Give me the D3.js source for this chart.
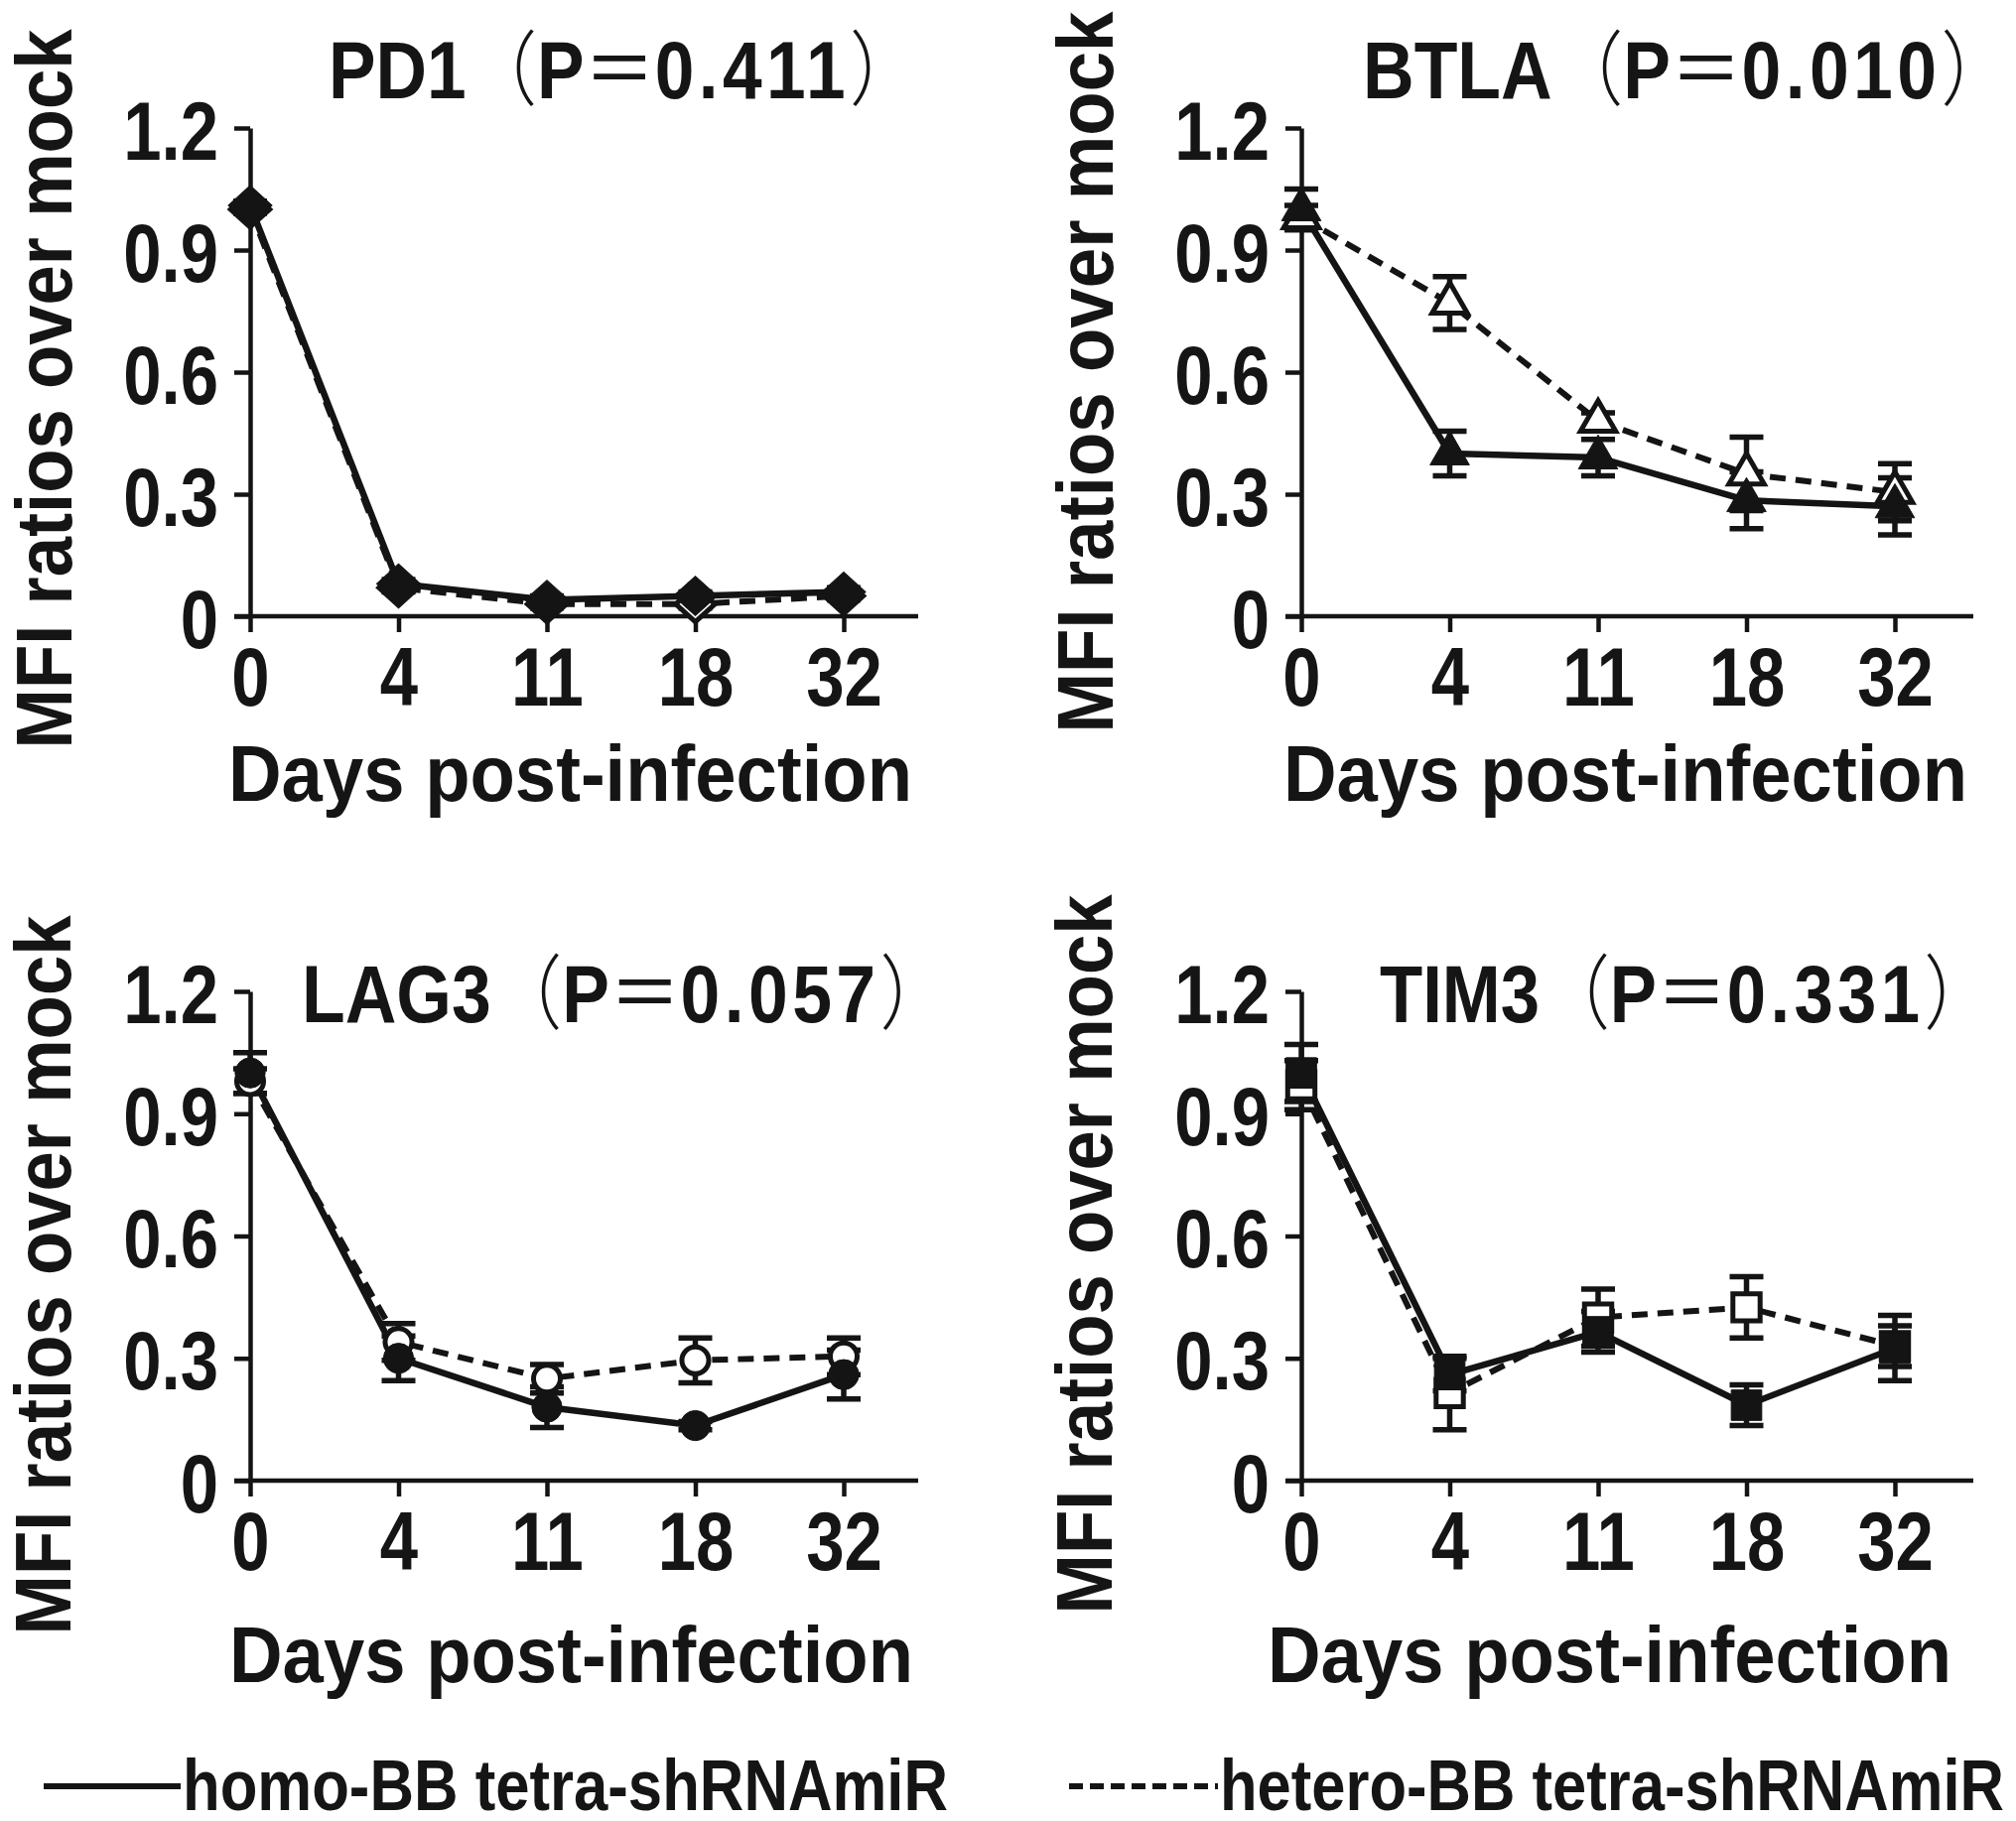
<!DOCTYPE html>
<html>
<head>
<meta charset="utf-8">
<script src="https://cdn.jsdelivr.net/npm/d3@7.9.0/dist/d3.min.js"></script>
<style>
  html, body { margin: 0; padding: 0; background: #fff; }
  svg { display: block; }
  text {
    font-family: 'Liberation Sans Narrow', 'Arial Narrow', 'Liberation Sans', Arial, sans-serif;
    font-weight: bold;
    fill: #151515;
  }
  .cjk { font-family: 'Noto Sans CJK SC', sans-serif; }
</style>
</head>
<body>
<svg id="chart" width="2031" height="1835"></svg>
<script>
// Categories and ticks
const days = ['0', '4', '11', '18', '32'];
const yTicks = [0, 0.3, 0.6, 0.9, 1.2];

// PD1
const pd1Homo = [1.01, 0.08, 0.04, 0.05, 0.06];
const pd1HomoErr = [0.01, 0.01, 0.01, 0.01, 0.01];
const pd1Hetero = [1.0, 0.07, 0.03, 0.03, 0.05];
const pd1HeteroErr = [0.01, 0.01, 0.01, 0.01, 0.01];

// BTLA
const btlaHomo = [1.0, 0.40, 0.39, 0.285, 0.27];
const btlaHomoErr = [0.05, 0.055, 0.045, 0.07, 0.07];
const btlaHetero = [0.98, 0.77, 0.48, 0.35, 0.305];
const btlaHeteroErr = [0.03, 0.065, 0.02, 0.09, 0.07];

// LAG3
const lag3Homo = [1.0, 0.30, 0.18, 0.135, 0.26];
const lag3HomoErr = [0.05, 0.055, 0.05, 0.01, 0.06];
const lag3Hetero = [0.98, 0.34, 0.25, 0.295, 0.305];
const lag3HeteroErr = [0.03, 0.045, 0.035, 0.055, 0.045];

// TIM3
const tim3Homo = [1.0, 0.26, 0.365, 0.185, 0.325];
const tim3HomoErr = [0.07, 0.04, 0.05, 0.05, 0.08];
const tim3Hetero = [0.97, 0.215, 0.40, 0.425, 0.33];
const tim3HeteroErr = [0.06, 0.09, 0.07, 0.075, 0.05];

const panelNames = ['PD1', 'BTLA', 'LAG3', 'TIM3'];
const panelP = ['0.411', '0.010', '0.057', '0.331'];
const panelMarkers = ['diamond', 'triangle', 'circle', 'square'];

const xLabel = 'Days post-infection';
const yLabel = 'MFI ratios over mock';
const legendLabels = ['homo-BB tetra-shRNAmiR', 'hetero-BB tetra-shRNAmiR'];

// Build panel table from the arrays above
const panels = [
  { homo: pd1Homo, homoErr: pd1HomoErr, hetero: pd1Hetero, heteroErr: pd1HeteroErr },
  { homo: btlaHomo, homoErr: btlaHomoErr, hetero: btlaHetero, heteroErr: btlaHeteroErr },
  { homo: lag3Homo, homoErr: lag3HomoErr, hetero: lag3Hetero, heteroErr: lag3HeteroErr },
  { homo: tim3Homo, homoErr: tim3HomoErr, hetero: tim3Hetero, heteroErr: tim3HeteroErr }
].map((p, i) => ({ ...p, name: panelNames[i], pval: panelP[i], marker: panelMarkers[i] }));

// Layout of each panel (pixels)
const layouts = [
  { x0: 252, y0: 621, yTop: 129, xEnd: 925,
    title: { x: 331, w: 547, y: 99 }, xLab: { x: 230, w: 689, y: 807 }, yLab: { x: 72, c: 392, w: 725 } },
  { x0: 1311, y0: 621, yTop: 129, xEnd: 1988,
    title: { x: 1373, w: 600, y: 99 }, xLab: { x: 1293, w: 689, y: 807 }, yLab: { x: 1121, c: 375, w: 727 } },
  { x0: 252, y0: 1492, yTop: 999, xEnd: 925,
    title: { x: 304, w: 600, y: 1030 }, xLab: { x: 231, w: 689, y: 1695 }, yLab: { x: 71, c: 1285, w: 725 } },
  { x0: 1311, y0: 1492, yTop: 999, xEnd: 1988,
    title: { x: 1390, w: 568, y: 1030 }, xLab: { x: 1277, w: 689, y: 1695 }, yLab: { x: 1120, c: 1264, w: 725 } }
];

const INK = '#141414';
const STEP = 149.5;
const NARROW = 0.82;   // condensed look for tick numbers

const svg = d3.select('#chart');
svg.append('rect').attr('width', 2031).attr('height', 1835).attr('fill', '#fff');

// Marker path for a shape, open markers drawn a bit smaller
function markerPath(shape, open) {
  const k = open ? 0.8 : 1;
  if (shape === 'circle') return d3.symbol(d3.symbolCircle, 720 * k)();
  if (shape === 'square') return d3.symbol(d3.symbolSquare, 940 * k)();
  if (shape === 'triangle') return d3.symbol(d3.symbolTriangle, 680 * k)();
  return d3.symbol(d3.symbolSquare, 880 * k)();
}

// squeeze a text horizontally to look condensed
function condense(sel, f) {
  sel.each(function () {
    const w = this.getComputedTextLength();
    d3.select(this).attr('textLength', w * f).attr('lengthAdjust', 'spacingAndGlyphs');
  });
}

function drawPanel(p, L) {
  const g = svg.append('g');

  const x = d3.scalePoint().domain(days).range([L.x0, L.x0 + STEP * (days.length - 1)]);
  const y = d3.scaleLinear().domain([0, 1.2]).range([L.y0, L.yTop]);

  // Y axis
  const yAxis = g.append('g')
    .attr('transform', `translate(${L.x0},0)`)
    .call(d3.axisLeft(y).tickValues(yTicks).tickSize(16).tickSizeOuter(0).tickPadding(16)
      .tickFormat(d => d === 0 ? '0' : d.toFixed(1)));
  yAxis.selectAll('text').attr('dy', '0.37em').style('font-size', '84px');

  // X axis
  const xAxis = g.append('g')
    .attr('transform', `translate(0,${L.y0})`)
    .call(d3.axisBottom(x).tickSize(16).tickPadding(14));
  xAxis.select('.domain').remove();
  xAxis.selectAll('text').style('font-size', '84px');
  xAxis.append('line')
    .attr('x1', x.range()[0] - 16).attr('x2', L.xEnd)
    .attr('y1', 0).attr('y2', 0);

  g.selectAll('.domain, .tick line, line')
    .attr('stroke', INK).attr('stroke-width', 4.5);
  g.selectAll('.tick text').attr('fill', INK).style('font-family', null);
  condense(g.selectAll('.tick text'), NARROW);

  // Series: hetero first, homo on top
  const series = [
    { vals: p.hetero, err: p.heteroErr, dash: '16 10', open: true },
    { vals: p.homo, err: p.homoErr, dash: null, open: false }
  ];

  const line = d3.line().x((d, i) => x(days[i])).y(d => y(d));

  series.forEach(s => {
    const eb = g.append('g');
    s.vals.forEach((v, i) => {
      const cx = x(days[i]);
      const lo = y(v - s.err[i]);
      const hi = y(v + s.err[i]);
      eb.append('line').attr('x1', cx).attr('x2', cx).attr('y1', lo).attr('y2', hi);
      eb.append('line').attr('x1', cx - 17).attr('x2', cx + 17).attr('y1', lo).attr('y2', lo);
      eb.append('line').attr('x1', cx - 17).attr('x2', cx + 17).attr('y1', hi).attr('y2', hi);
    });
    eb.selectAll('line').attr('stroke', INK).attr('stroke-width', 5.5);

    g.append('path')
      .datum(s.vals)
      .attr('d', line)
      .attr('fill', 'none')
      .attr('stroke', INK)
      .attr('stroke-width', s.open ? 6 : 6.5)
      .attr('stroke-linejoin', 'round')
      .attr('stroke-dasharray', s.dash);
  });

  series.forEach(s => {
    s.vals.forEach((v, i) => {
      let tf = `translate(${x(days[i])},${y(v)})`;
      if (p.marker === 'diamond') tf += ' scale(1.05,0.95) rotate(45)';
      g.append('path')
        .attr('d', markerPath(p.marker, s.open))
        .attr('transform', tf)
        .attr('fill', s.open ? '#fff' : INK)
        .attr('stroke', INK)
        .attr('stroke-width', s.open ? 5 : 1);
    });
  });

  // Title; the full-width paren leaves blank room after it, hence the extra length
  const t = svg.append('text')
    .attr('x', L.title.x).attr('y', L.title.y)
    .attr('textLength', L.title.w * 1.09).attr('lengthAdjust', 'spacingAndGlyphs')
    .style('font-size', '82px');
  t.append('tspan').text(p.name);
  t.append('tspan').attr('class', 'cjk').style('font-weight', 300).text('（');
  t.append('tspan').text('P');
  t.append('tspan').attr('class', 'cjk').style('font-weight', 400).text('＝');
  t.append('tspan').style('letter-spacing', '5px').text(p.pval);
  t.append('tspan').attr('class', 'cjk').style('font-weight', 300).text('）');

  // Axis labels
  svg.append('text')
    .attr('x', L.xLab.x).attr('y', L.xLab.y)
    .attr('textLength', L.xLab.w).attr('lengthAdjust', 'spacingAndGlyphs')
    .style('font-size', '80px')
    .text(xLabel);

  svg.append('text')
    .attr('transform', `translate(${L.yLab.x},${L.yLab.c}) rotate(-90)`)
    .attr('text-anchor', 'middle')
    .attr('textLength', L.yLab.w).attr('lengthAdjust', 'spacingAndGlyphs')
    .style('font-size', '80px')
    .text(yLabel);
}

panels.forEach((p, i) => drawPanel(p, layouts[i]));

// Legend
const legend = [
  { x1: 44, x2: 182, tx: 184, tw: 771, dash: null },
  { x1: 1077, x2: 1227, tx: 1229, tw: 790, dash: '14 7' }
];
legend.forEach((d, i) => {
  svg.append('line')
    .attr('x1', d.x1).attr('x2', d.x2).attr('y1', 1800).attr('y2', 1800)
    .attr('stroke', INK).attr('stroke-width', 6)
    .attr('stroke-dasharray', d.dash);
  svg.append('text')
    .attr('x', d.tx).attr('y', 1824)
    .attr('textLength', d.tw).attr('lengthAdjust', 'spacingAndGlyphs')
    .style('font-size', '72px')
    .text(legendLabels[i]);
});
</script>
</body>
</html>
